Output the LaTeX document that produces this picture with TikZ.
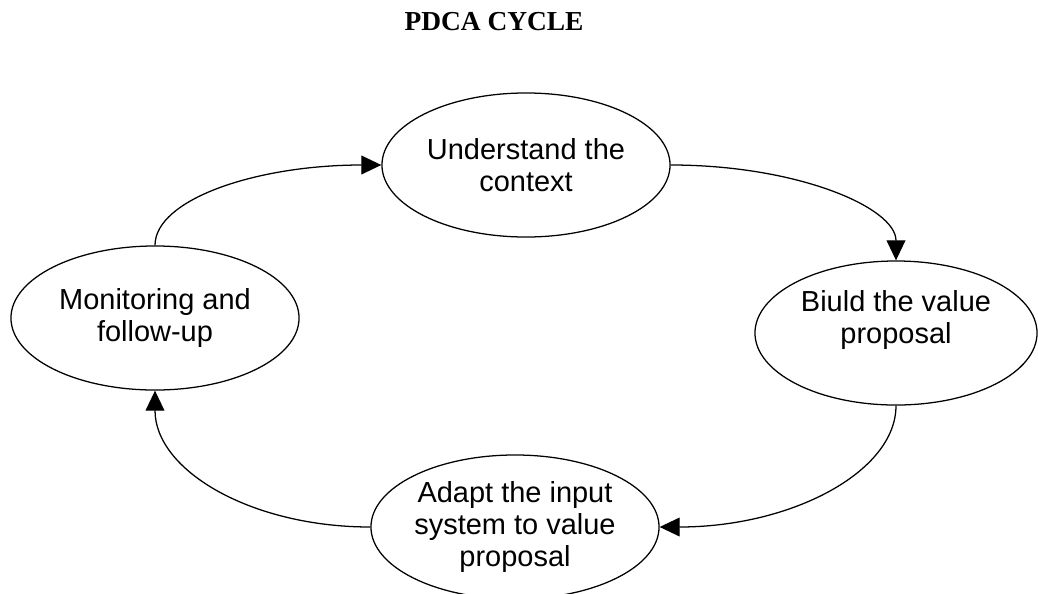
\documentclass[tikz,border=0pt]{standalone}
\usepackage{fontspec}
\setmainfont{Liberation Sans}
\newfontfamily\titlefont{Liberation Serif}
\usetikzlibrary{shapes.geometric, arrows.meta}
\definecolor{cycblack}{HTML}{000000}

\begin{document}
\begin{tikzpicture}[x=0.025cm, y=-0.025cm,
    phase/.style={draw=cycblack, ellipse, line width=0.9pt, inner sep=0pt,
      minimum width=7.2cm, minimum height=3.6cm, align=center,
      font=\fontsize{20.6pt}{22.8pt}\selectfont},
    flow/.style={draw=cycblack, line width=0.9pt,
      -{Triangle[length=0.5cm, width=0.47cm]}}]
    \useasboundingbox (0,0) rectangle (1038,593);
    \node[anchor=base, font=\titlefont\bfseries\fontsize{19.5pt}{22pt}\selectfont]
      (title) at (494,30) {PDCA CYCLE};
    \node[phase] (ctx) at (526,165) {Understand the\\context};
    \node[phase, minimum width=7.05cm] (value) at (896,333)
      {Biuld the value\\proposal\\\mbox{}};
    \node[phase] (adapt) at (515,527) {Adapt the input\\system to value\\proposal};
    \node[phase] (monitor) at (155,318) {Monitoring and\\follow-up};
    \draw[flow] (monitor.north) .. controls +(0,-46) and +(-125,0) .. (ctx.west);
    \draw[flow] (ctx.east) .. controls +(126,0) and +(0,-53) .. (value.north);
    \draw[flow] (value.south) .. controls +(0,66) and +(132,0) .. (adapt.east);
    \draw[flow] (adapt.west) .. controls +(-119,0) and +(0,80) .. (monitor.south);
  \end{tikzpicture}
\end{document}
